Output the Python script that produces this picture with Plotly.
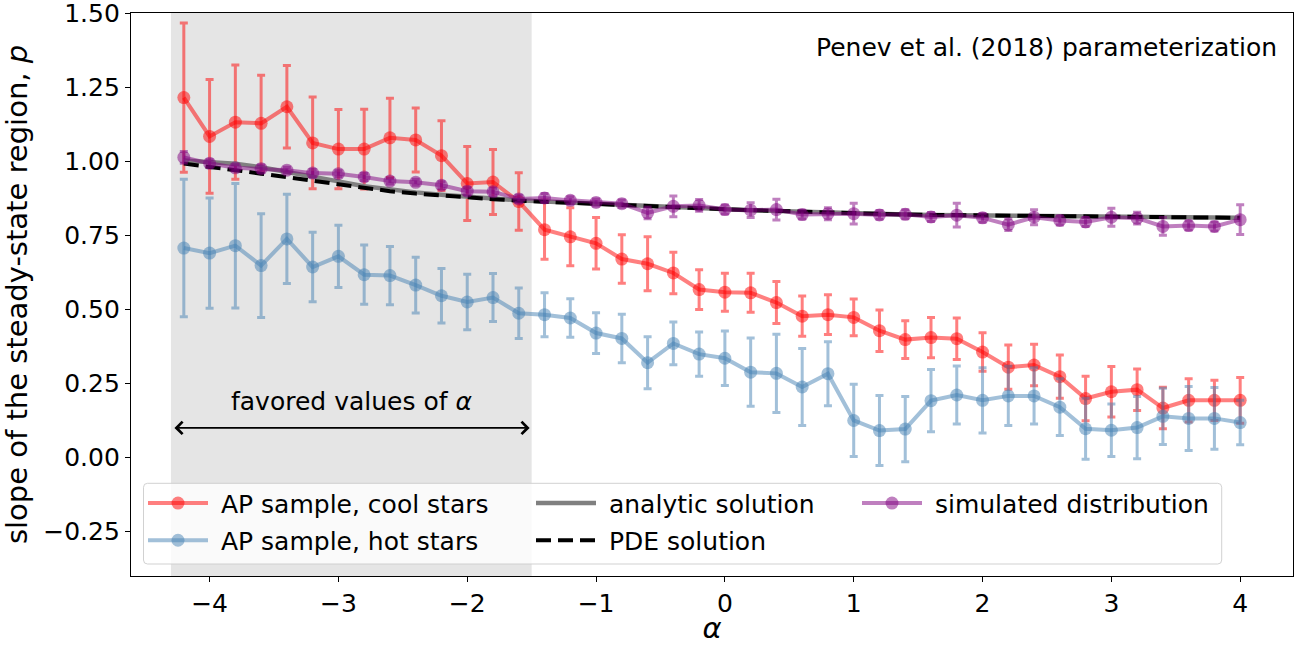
import plotly.graph_objects as go

# ---------------- data ----------------
alpha = [-4.2, -4.0, -3.8, -3.6, -3.4, -3.2, -3.0, -2.8, -2.6, -2.4, -2.2, -2.0,
         -1.8, -1.6, -1.4, -1.2, -1.0, -0.8, -0.6, -0.4, -0.2, 0.0, 0.2, 0.4,
         0.6, 0.8, 1.0, 1.2, 1.4, 1.6, 1.8, 2.0, 2.2, 2.4, 2.6, 2.8, 3.0, 3.2,
         3.4, 3.6, 3.8, 4.0]

cool = [1.215, 1.084, 1.132, 1.128, 1.184, 1.062, 1.041, 1.041, 1.079, 1.072, 1.019, 0.925,
        0.930, 0.864, 0.769, 0.745, 0.723, 0.670, 0.654, 0.623, 0.567, 0.558, 0.556, 0.523,
        0.477, 0.482, 0.473, 0.428, 0.398, 0.405, 0.401, 0.356, 0.305, 0.312, 0.273, 0.199,
        0.222, 0.229, 0.167, 0.193, 0.193, 0.193]
cool_err = [0.252, 0.192, 0.193, 0.162, 0.139, 0.155, 0.134, 0.135, 0.134, 0.108, 0.118, 0.125,
            0.110, 0.097, 0.100, 0.098, 0.087, 0.082, 0.091, 0.070, 0.067, 0.064, 0.066, 0.071,
            0.068, 0.067, 0.062, 0.070, 0.064, 0.068, 0.070, 0.065, 0.075, 0.070, 0.073, 0.075,
            0.085, 0.070, 0.070, 0.073, 0.068, 0.077]

hot = [0.707, 0.690, 0.715, 0.648, 0.738, 0.643, 0.679, 0.617, 0.614, 0.582, 0.546, 0.525,
       0.540, 0.487, 0.482, 0.471, 0.420, 0.402, 0.320, 0.385, 0.349, 0.335, 0.288, 0.284,
       0.238, 0.283, 0.125, 0.091, 0.096, 0.192, 0.211, 0.193, 0.208, 0.208, 0.170, 0.097,
       0.092, 0.101, 0.139, 0.132, 0.132, 0.118]
hot_err = [0.232, 0.186, 0.210, 0.175, 0.151, 0.117, 0.105, 0.100, 0.098, 0.094, 0.092, 0.094,
           0.081, 0.085, 0.074, 0.065, 0.069, 0.082, 0.088, 0.072, 0.075, 0.092, 0.115, 0.132,
           0.130, 0.108, 0.122, 0.118, 0.110, 0.105, 0.098, 0.110, 0.100, 0.095, 0.096, 0.103,
           0.089, 0.105, 0.095, 0.108, 0.104, 0.075]

sim = [1.013, 0.993, 0.978, 0.975, 0.970, 0.960, 0.958, 0.947, 0.933, 0.929, 0.919, 0.899,
       0.897, 0.873, 0.876, 0.868, 0.861, 0.857, 0.826, 0.848, 0.851, 0.837, 0.835, 0.837,
       0.820, 0.823, 0.823, 0.819, 0.821, 0.812, 0.818, 0.809, 0.786, 0.811, 0.800, 0.795,
       0.811, 0.808, 0.780, 0.783, 0.780, 0.803]
sim_err = [0.020, 0.012, 0.010, 0.012, 0.010, 0.012, 0.010, 0.012, 0.010, 0.010, 0.012, 0.012,
           0.012, 0.012, 0.015, 0.012, 0.012, 0.012, 0.020, 0.035, 0.020, 0.015, 0.025, 0.035,
           0.015, 0.020, 0.035, 0.015, 0.015, 0.015, 0.040, 0.015, 0.020, 0.025, 0.015, 0.015,
           0.030, 0.020, 0.030, 0.015, 0.015, 0.050]

analytic = [1.003, 0.998, 0.992, 0.980, 0.963, 0.948, 0.932, 0.916, 0.905, 0.895, 0.887, 0.880,
            0.873, 0.868, 0.864, 0.860, 0.857, 0.853, 0.849, 0.845, 0.841, 0.838, 0.835, 0.832,
            0.829, 0.827, 0.825, 0.822, 0.820, 0.819, 0.818, 0.817, 0.816, 0.815, 0.814, 0.813,
            0.812, 0.811, 0.811, 0.810, 0.810, 0.809]
pde = [0.992, 0.982, 0.970, 0.958, 0.946, 0.932, 0.920, 0.909, 0.899, 0.891, 0.884, 0.878,
       0.872, 0.867, 0.863, 0.860, 0.857, 0.853, 0.849, 0.845, 0.841, 0.838, 0.835, 0.832,
       0.829, 0.827, 0.825, 0.822, 0.820, 0.819, 0.818, 0.817, 0.816, 0.815, 0.814, 0.813,
       0.812, 0.811, 0.811, 0.810, 0.810, 0.809]

favored_range = [-4.3, -1.5]
x_ticks = [-4, -3, -2, -1, 0, 1, 2, 3, 4]
y_ticks = [-0.25, 0.0, 0.25, 0.5, 0.75, 1.0, 1.25, 1.5]

# ---------------- layout geometry ----------------
FONT = "DejaVu Sans"
W, H = 1302, 645
ML, MR, MT, MB = 131, 9, 13, 69
PW, PH = W - ML - MR, H - MT - MB


def px_x(px):
    return (px - ML) / PW


def px_y(py):
    return (H - MB - py) / PH


fig = go.Figure()


def err_trace(name, y, e, rgb, legend):
    col = "rgba(%s,0.5)" % rgb
    return go.Scatter(
        x=alpha, y=y, name="\u00a0" + name, mode="lines+markers",
        line=dict(color=col, width=4),
        marker=dict(color=col, size=13, line=dict(width=0)),
        error_y=dict(type="data", array=e, visible=True, color=col, thickness=3, width=4),
        legend=legend, showlegend=True,
    )


fig.add_trace(err_trace("AP sample, cool stars", cool, cool_err, "255,0,0", "legend"))
fig.add_trace(err_trace("AP sample, hot stars", hot, hot_err, "70,130,180", "legend2"))
fig.add_trace(go.Scatter(x=alpha, y=analytic, name="\u00a0analytic solution", mode="lines",
                         line=dict(color="#808080", width=4.5), legend="legend3",
                         showlegend=True))
fig.add_trace(go.Scatter(x=alpha, y=pde, name="\u00a0PDE solution", mode="lines",
                         line=dict(color="black", width=4, dash="15px,7px"), legend="legend4",
                         showlegend=True))
fig.add_trace(err_trace("simulated distribution", sim, sim_err, "128,0,128", "legend5"))

# shaded favoured region
fig.add_shape(type="rect", xref="x", yref="paper", x0=favored_range[0], x1=favored_range[1],
              y0=0, y1=1, fillcolor="#e5e5e5", line=dict(width=0), layer="below")

# legend frame (rounded)
x0, x1 = px_x(143.5), px_x(1221.7)
y0, y1 = px_y(564.0), px_y(483.3)
rx, ry = 4 / PW, 4 / PH
path = (f"M{x0+rx},{y0} L{x1-rx},{y0} Q{x1},{y0} {x1},{y0+ry} L{x1},{y1-ry} "
        f"Q{x1},{y1} {x1-rx},{y1} L{x0+rx},{y1} Q{x0},{y1} {x0},{y1-ry} "
        f"L{x0},{y0+ry} Q{x0},{y0} {x0+rx},{y0} Z")
fig.add_shape(type="path", xref="paper", yref="paper", path=path,
              fillcolor="rgba(255,255,255,0.8)", line=dict(color="rgba(204,204,204,0.9)", width=1),
              layer="above")

# double arrow + label
fig.add_annotation(x=favored_range[1], y=0.1, ax=favored_range[0], ay=0.1,
                   xref="x", yref="y", axref="x", ayref="y", text="",
                   showarrow=True, arrowside="end+start", arrowhead=4, startarrowhead=4,
                   arrowsize=1.5, startarrowsize=1.5, arrowwidth=1.6, arrowcolor="black",
                   standoff=2, startstandoff=2)
fig.add_annotation(x=sum(favored_range) / 2, y=0.19, xref="x", yref="y",
                   text="favored values of <i>α</i>", showarrow=False,
                   font=dict(family=FONT, size=25, color="black"))
fig.add_annotation(x=px_x(1279), y=px_y(47), xref="paper", yref="paper",
                   text="Penev et al. (2018) parameterization", showarrow=False,
                   xanchor="right", yanchor="middle",
                   font=dict(family=FONT, size=25, color="black"))

axis_common = dict(showline=True, mirror=True, linecolor="black", linewidth=1.3,
                   ticks="outside", ticklen=5, tickwidth=1.3, tickcolor="black",
                   showgrid=False, zeroline=False, automargin=False,
                   ticklabeloverflow="allow",
                   tickfont=dict(family=FONT, size=25, color="black"))

fig.update_layout(
    width=W, height=H,
    margin=dict(l=ML, r=MR, t=MT, b=MB),
    paper_bgcolor="white", plot_bgcolor="white",
    font=dict(family=FONT, color="black"),
    showlegend=True,
    xaxis=dict(range=[-4.61, 4.41], tickvals=x_ticks,
               title=dict(text="<i>α</i>", font=dict(family=FONT, size=29), standoff=4),
               **axis_common),
    yaxis=dict(range=[-0.40, 1.5005], tickvals=y_ticks, tickformat=".2f",
               title=dict(text="slope of the steady-state region, <i>p</i>",
                          font=dict(family=FONT, size=29), standoff=8),
               **axis_common),
)

leg_common = dict(xanchor="left", yanchor="middle", bgcolor="rgba(0,0,0,0)", borderwidth=0,
                  font=dict(family=FONT, size=25, color="black"), itemwidth=60, visible=True)
row1, row2 = px_y(503.3), px_y(540.5)
col1, col2, col3 = px_x(178 - 35), px_x(566 - 35), px_x(892 - 35)
fig.update_layout(
    legend=dict(x=col1, y=row1, **leg_common),
    legend2=dict(x=col1, y=row2, **leg_common),
    legend3=dict(x=col2, y=row1, **leg_common),
    legend4=dict(x=col2, y=row2, **leg_common),
    legend5=dict(x=col3, y=row1, **leg_common),
)

fig.write_html("out.html")
